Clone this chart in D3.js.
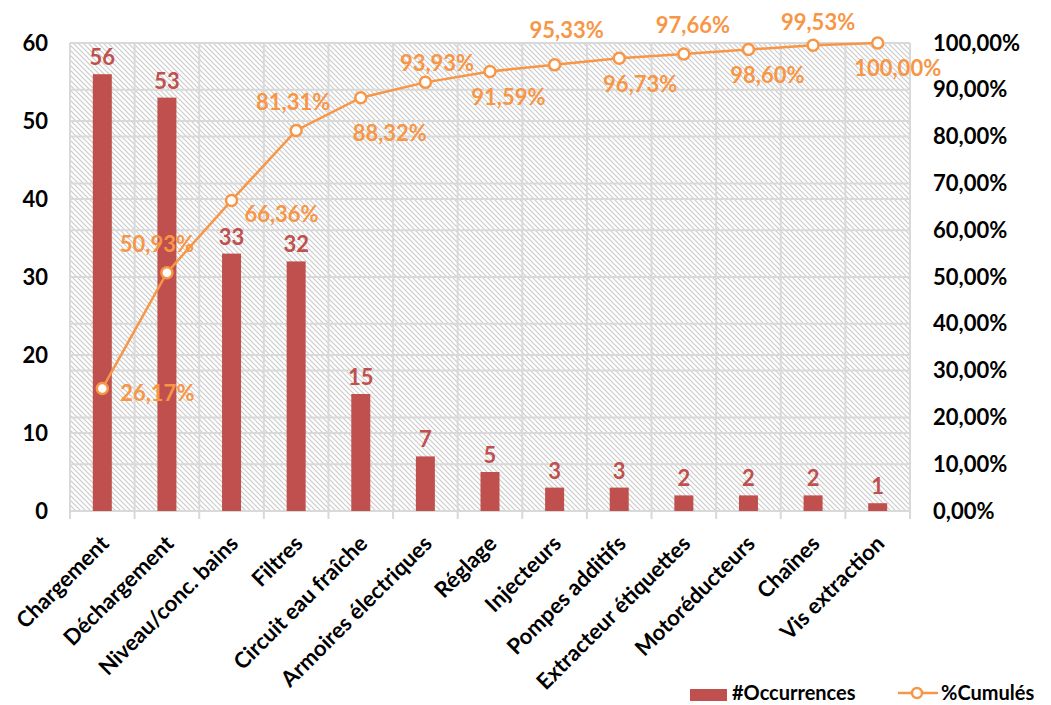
<!DOCTYPE html>
<html><head><meta charset="utf-8">
<script src="https://cdn.jsdelivr.net/npm/d3@7"></script>
<style>body{margin:0;background:#fff}svg{display:block}</style>
</head><body><svg id="c" width="1051" height="705"></svg>
<script>
const categories = ["Chargement","Déchargement","Niveau/conc. bains","Filtres","Circuit eau fraîche","Armoires électriques","Réglage","Injecteurs","Pompes additifs","Extracteur étiquettes","Motoréducteurs","Chaînes","Vis extraction"];
const occurrences = [56,53,33,32,15,7,5,3,3,2,2,2,1];
const cumulated = [26.17,50.93,66.36,81.31,88.32,91.59,93.93,95.33,96.73,97.66,98.60,99.53,100.00];
const leftTicks = [0,10,20,30,40,50,60];
const rightTicks = [0,10,20,30,40,50,60,70,80,90,100];
const seriesNames = ["#Occurrences","%Cumulés"];

const svg = d3.select("#c");
const font = "Lato, 'Open Sans', sans-serif";
const m = {l:70, r:910, t:43, b:511};
const x = d3.scaleBand().domain(categories).range([m.l, m.r]);
const y = d3.scaleLinear().domain([0,60]).range([m.b, m.t]);
const y2 = d3.scaleLinear().domain([0,100]).range([m.b, m.t]);
const red = "#C0504D", orange = "#F79646";
const fmtPct = v => d3.format(".2f")(v).replace(".",",")+"%";

const defs = svg.append("defs");
const pat = defs.append("pattern").attr("id","hatch").attr("patternUnits","userSpaceOnUse").attr("width",5).attr("height",5);
pat.append("rect").attr("width",5).attr("height",5).attr("fill","#fff");
pat.append("path").attr("d","M-1,-1 L6,6 M4,-1 L6,1 M-1,4 L1,6").attr("stroke","#cccccc").attr("stroke-width",1.2);

svg.append("rect").attr("x",m.l).attr("y",m.t).attr("width",m.r-m.l).attr("height",m.b-m.t).attr("fill","url(#hatch)");

const grid = svg.append("g").attr("stroke","#d9d9d9").attr("stroke-width",2);
leftTicks.forEach(v=>grid.append("line").attr("x1",m.l).attr("x2",m.r).attr("y1",y(v)).attr("y2",y(v)));
rightTicks.forEach(v=>grid.append("line").attr("x1",m.l).attr("x2",m.r).attr("y1",y2(v)).attr("y2",y2(v)));
const bounds = categories.map(c=>x(c)).concat([m.r]);
bounds.forEach(b=>grid.append("line").attr("x1",b).attr("x2",b).attr("y1",m.t).attr("y2",m.b+8));

// bars
const bw = 19;
svg.append("g").selectAll("rect").data(occurrences).join("rect")
  .attr("x",(d,i)=>x(categories[i])+x.bandwidth()/2-bw/2)
  .attr("y",d=>y(d)).attr("width",bw).attr("height",d=>y(0)-y(d)).attr("fill",red);
svg.append("g").selectAll("text").data(occurrences).join("text")
  .attr("x",(d,i)=>x(categories[i])+x.bandwidth()/2)
  .attr("y",d=>y(d)-9).attr("text-anchor","middle")
  .attr("font-family",font).attr("font-weight","bold").attr("font-size",22).attr("fill",red)
  .text(d=>d);

// axes
const yl = d3.axisLeft(y).tickValues(leftTicks).tickSize(0).tickPadding(22);
const gl = svg.append("g").attr("transform",`translate(${m.l},0)`).call(yl);
const yr = d3.axisRight(y2).tickValues(rightTicks).tickSize(0).tickPadding(23).tickFormat(fmtPct);
const gr = svg.append("g").attr("transform",`translate(${m.r},0)`).call(yr);
[gl,gr].forEach(g=>{g.select(".domain").remove();g.selectAll("text").attr("font-family",font).attr("font-weight","bold").attr("font-size",22).attr("fill","#000");});

const xa = d3.axisBottom(x).tickSize(0).tickPadding(0);
const gx = svg.append("g").attr("transform",`translate(0,${m.b})`).call(xa);
gx.select(".domain").remove();
gx.selectAll("text").attr("font-family",font).attr("font-weight","bold").attr("font-size",22).attr("fill","#000")
  .attr("text-anchor","end").attr("dy",0).attr("transform","translate(8,34) rotate(-45)");

// line
const px = (d,i)=>x(categories[i])+x.bandwidth()/2;
svg.append("path").datum(cumulated).attr("fill","none").attr("stroke",orange).attr("stroke-width",2.5)
  .attr("d",d3.line().x(px).y(d=>y2(d)));
svg.append("g").selectAll("circle").data(cumulated).join("circle")
  .attr("cx",px).attr("cy",d=>y2(d)).attr("r",5.5).attr("fill","#fff").attr("stroke",orange).attr("stroke-width",2.5);
const off = [[55,5],[-10,-28],[50,14],[-3,-28],[29,36],[83,15],[-53,-8],[12,-35],[21,26],[9,-29],[19,26],[5,-23],[20,25]];
svg.append("g").selectAll("text").data(cumulated).join("text")
  .attr("x",(d,i)=>px(d,i)+off[i][0]).attr("y",(d,i)=>y2(d)+off[i][1]).attr("text-anchor","middle")
  .attr("dy","0.35em")
  .attr("font-family",font).attr("font-weight","bold").attr("font-size",22).attr("fill",orange)
  .text(fmtPct);

// legend
const lg = svg.append("g").attr("font-family",font).attr("font-weight","bold").attr("font-size",20).attr("fill","#000");
lg.append("rect").attr("x",690).attr("y",689).attr("width",37).attr("height",12).attr("fill",red);
lg.append("text").attr("x",732).attr("y",700).text(seriesNames[0]);
lg.append("line").attr("x1",898).attr("x2",938).attr("y1",693).attr("y2",693).attr("stroke",orange).attr("stroke-width",2.5);
lg.append("circle").attr("cx",917).attr("cy",693).attr("r",5).attr("fill","#fff").attr("stroke",orange).attr("stroke-width",2.5);
lg.append("text").attr("x",941).attr("y",700).text(seriesNames[1]);
</script></body></html>
